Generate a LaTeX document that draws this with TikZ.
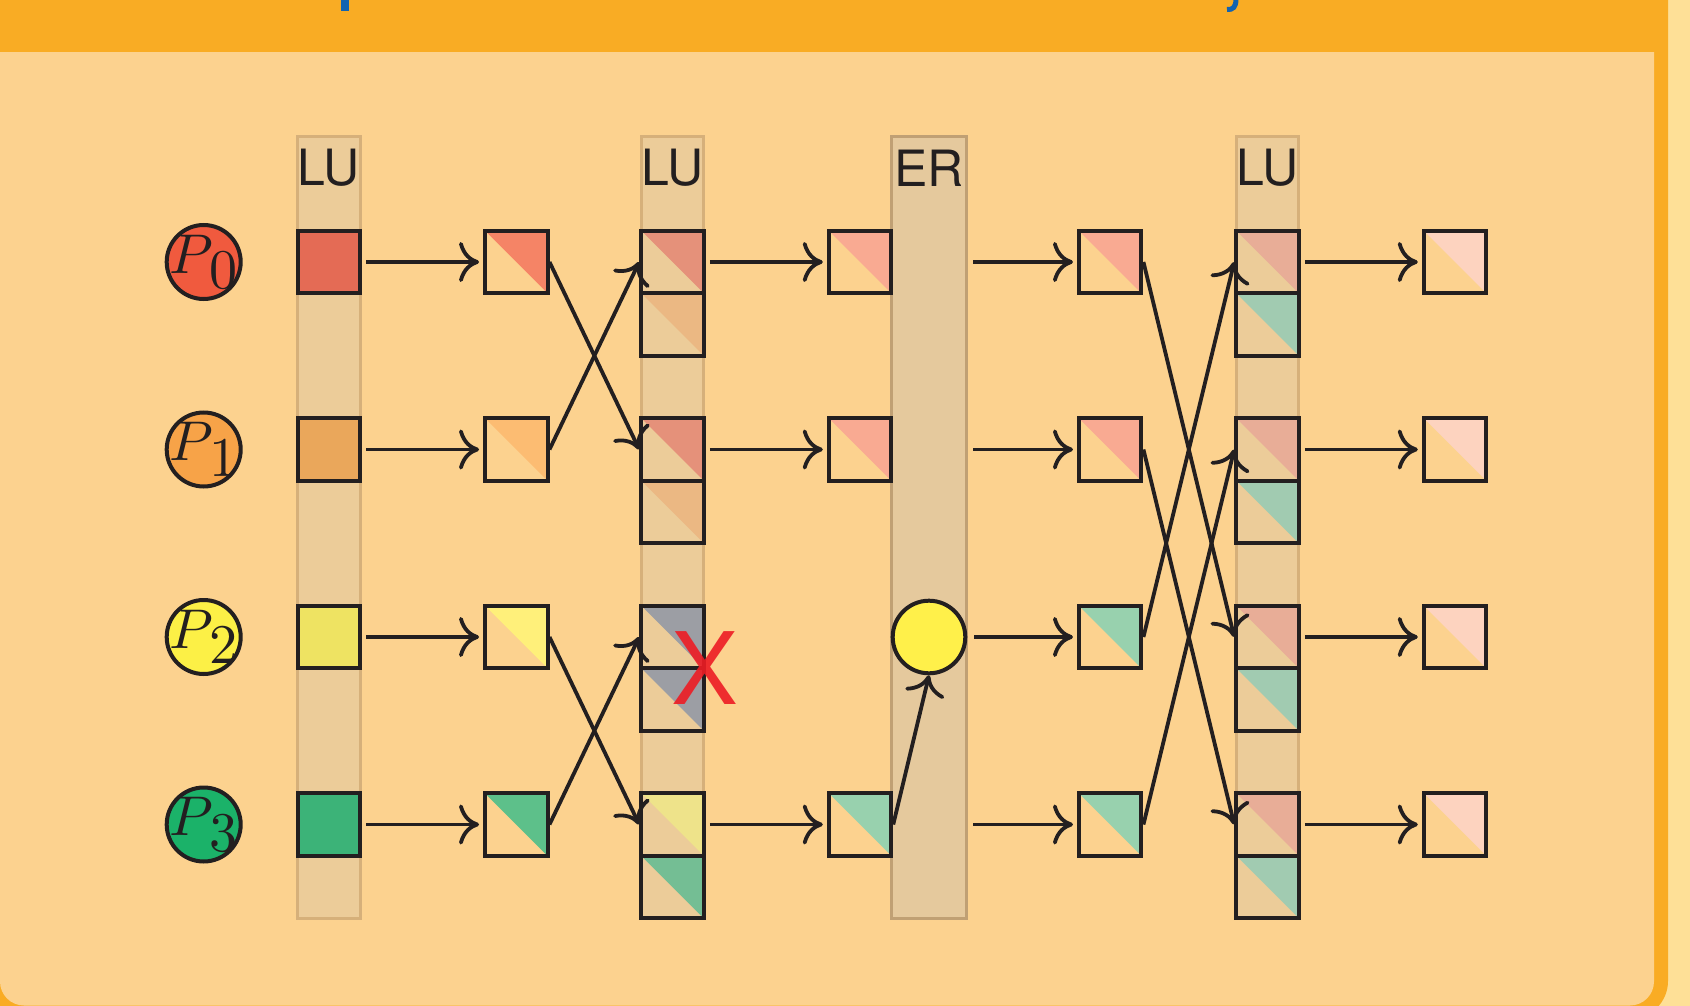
\documentclass[tikz,border=0pt]{standalone}
\usepackage{fontspec}
\setsansfont{TeX Gyre Heros}
\usetikzlibrary{arrows.meta}
\definecolor{ink}{RGB}{35,31,32}
\definecolor{pale}{RGB}{254,224,151}
\definecolor{frame}{RGB}{249,172,36}
\definecolor{panel}{RGB}{252,210,143}
\definecolor{bandfill}{RGB}{236,204,153}
\definecolor{bandedge}{RGB}{214,176,122}
\definecolor{erfill}{RGB}{229,201,157}
\definecolor{eredge}{RGB}{192,160,116}
\definecolor{titleblue}{RGB}{18,99,176}
\definecolor{xred}{RGB}{237,28,36}
% circles
\definecolor{pA}{RGB}{240,90,62}
\definecolor{pB}{RGB}{247,163,72}
\definecolor{pC}{RGB}{252,240,70}
\definecolor{pD}{RGB}{27,178,105}
% LU1 squares
\definecolor{lA}{RGB}{228,107,85}
\definecolor{lB}{RGB}{234,167,91}
\definecolor{lC}{RGB}{238,227,98}
\definecolor{lD}{RGB}{60,179,120}
% column 2 triangles
\definecolor{bA}{RGB}{245,132,102}
\definecolor{bB}{RGB}{252,188,114}
\definecolor{bC}{RGB}{255,240,122}
\definecolor{bD}{RGB}{93,192,138}
% LU2 triangles
\definecolor{cTop}{RGB}{229,145,122}
\definecolor{cBot}{RGB}{235,184,131}
\definecolor{cGray}{RGB}{156,158,164}
\definecolor{cYel}{RGB}{238,227,138}
\definecolor{cGrn}{RGB}{116,190,148}
% later columns
\definecolor{salmon}{RGB}{249,170,146}
\definecolor{mint}{RGB}{152,209,174}
\definecolor{fTop}{RGB}{232,173,151}
\definecolor{fBot}{RGB}{161,203,177}
\definecolor{gPink}{RGB}{253,211,191}
\definecolor{erY}{RGB}{255,240,74}
\tikzset{
  sq/.style={rectangle, draw=ink, line width=4pt, minimum size=62.5pt, inner sep=0pt},
  tri/.style={sq, path picture={\fill[#1] (path picture bounding box.north west) -- (path picture bounding box.north east) -- (path picture bounding box.south east) -- cycle;}},
  fullsq/.style={sq, fill=#1},
  pcirc/.style={circle, draw=ink, line width=4pt, minimum size=74pt, inner sep=0pt, fill=#1},
  plbl/.style={inner sep=0pt, text=ink},
  arr/.style={line width=3.8pt, draw=ink, -{Computer Modern Rightarrow[length=20pt,width=40pt]}},
  harr/.style={arr, shorten <=4pt, shorten >=4pt},
  bandbox/.style={rectangle, fill=bandfill, draw=bandedge, line width=3pt, minimum width=62.5pt, minimum height=781.3pt, inner sep=0pt},
  erbox/.style={rectangle, fill=erfill, draw=eredge, line width=3pt, minimum width=75.5pt, minimum height=781.3pt, inner sep=0pt},
  lbl/.style={font=\sffamily\fontsize{50}{50}\selectfont, text=ink, inner sep=0pt},
}
\newcommand{\plab}[1]{\scalebox{5.6}{$P$\kern-0.7pt\raisebox{-2.8pt}{$#1$}}}
\begin{document}
\begin{tikzpicture}[x=1pt,y=-1pt]
\useasboundingbox (0,0) rectangle (1690,1006);
\clip (0,0) rectangle (1690,1006);
% background and block frame
\fill[pale] (0,0) rectangle (1690,1006);
\fill[frame, rounded corners=38pt] (-14,-60) rectangle (1668,1019);
\fill[panel, rounded corners=24pt] (0,-40) rectangle (1654,1005.5);
\fill[frame] (-14,-60) rectangle (1668,52);
% cut-off title descenders
\fill[titleblue] (340.7,0) rectangle (349,11);
\draw[titleblue, line width=5pt] (1236,-1) .. controls (1236,7) and (1233,10) .. (1227,9.5);
% bands
\node[bandbox] (B1) at (328.75,527.65) {};
\node[bandbox] (B2) at (672.5,527.65) {};
\node[erbox] (B3) at (929,527.65) {};
\node[bandbox] (B4) at (1267.5,527.65) {};
\node[lbl] (L1) at (328.75,168) {LU};
\node[lbl] (L2) at (672.5,168) {LU};
\node[lbl] (L3) at (929,168) {ER};
\node[lbl] (L4) at (1267.5,168) {LU};
% process circles
\node[pcirc=pA] (p0) at (203.7,262) {};
\node[pcirc=pB] (p1) at (203.7,449.5) {};
\node[pcirc=pC] (p2) at (203.7,637) {};
\node[pcirc=pD] (p3) at (203.7,824.5) {};
\node[plbl] (p0t) at (p0.center) {\plab{0}};
\node[plbl] (p1t) at (p1.center) {\plab{1}};
\node[plbl] (p2t) at (p2.center) {\plab{2}};
\node[plbl] (p3t) at (p3.center) {\plab{3}};
% LU1
\node[fullsq=lA] (a0) at (328.75,262) {};
\node[fullsq=lB] (a1) at (328.75,449.5) {};
\node[fullsq=lC] (a2) at (328.75,637) {};
\node[fullsq=lD] (a3) at (328.75,824.5) {};
% column 2
\node[tri=bA] (b0) at (516.25,262) {};
\node[tri=bB] (b1) at (516.25,449.5) {};
\node[tri=bC] (b2) at (516.25,637) {};
\node[tri=bD] (b3) at (516.25,824.5) {};
% LU2 stacks
\node[tri=cTop] (c0t) at (672.5,262) {};
\node[tri=cBot] (c0b) at (672.5,324.5) {};
\node[tri=cTop] (c1t) at (672.5,449.5) {};
\node[tri=cBot] (c1b) at (672.5,512) {};
\node[tri=cGray] (c2t) at (672.5,637) {};
\node[tri=cGray] (c2b) at (672.5,699.5) {};
\node[tri=cYel] (c3t) at (672.5,824.5) {};
\node[tri=cGrn] (c3b) at (672.5,887) {};
% column 4
\node[tri=salmon] (d0) at (860,262) {};
\node[tri=salmon] (d1) at (860,449.5) {};
\node[tri=mint] (d3) at (860,824.5) {};
% ER circle
\node[circle, draw=ink, line width=4pt, fill=erY, minimum size=72.6pt, inner sep=0pt] (erc) at (929,637) {};
% column 5
\node[tri=salmon] (e0) at (1110.2,262) {};
\node[tri=salmon] (e1) at (1110.2,449.5) {};
\node[tri=mint] (e2) at (1110.2,637) {};
\node[tri=mint] (e3) at (1110.2,824.5) {};
% LU3 stacks
\node[tri=fTop] (f0t) at (1267.5,262) {};
\node[tri=fBot] (f0b) at (1267.5,324.5) {};
\node[tri=fTop] (f1t) at (1267.5,449.5) {};
\node[tri=fBot] (f1b) at (1267.5,512) {};
\node[tri=fTop] (f2t) at (1267.5,637) {};
\node[tri=fBot] (f2b) at (1267.5,699.5) {};
\node[tri=fTop] (f3t) at (1267.5,824.5) {};
\node[tri=fBot] (f3b) at (1267.5,887) {};
% column 7
\node[tri=gPink] (g0) at (1455,262) {};
\node[tri=gPink] (g1) at (1455,449.5) {};
\node[tri=gPink] (g2) at (1455,637) {};
\node[tri=gPink] (g3) at (1455,824.5) {};
% arrows
\draw[harr] (a0.east) -- (b0.west);
\draw[harr] (a1.east) -- (b1.west);
\draw[harr] (a2.east) -- (b2.west);
\draw[harr] (a3.east) -- (b3.west);
\draw[arr] (b0.east) -- (c1t.west);
\draw[arr] (b1.east) -- (c0t.west);
\draw[arr] (b2.east) -- (c3t.west);
\draw[arr] (b3.east) -- (c2t.west);
\draw[harr] (c0t.east) -- (d0.west);
\draw[harr] (c1t.east) -- (d1.west);
\draw[harr] (c3t.east) -- (d3.west);
\draw[arr] (d3.east) -- (erc.south);
\coordinate (x0) at (973,262);
\coordinate (x1) at (973,449.5);
\coordinate (x3) at (973,824.5);
\draw[arr, shorten >=4pt] (x0) -- (e0.west);
\draw[arr, shorten >=4pt] (x1) -- (e1.west);
\draw[arr, shorten <=7pt, shorten >=4pt] (erc.east) -- (e2.west);
\draw[arr, shorten >=4pt] (x3) -- (e3.west);
\draw[arr] (e0.east) -- (f2t.west);
\draw[arr] (e1.east) -- (f3t.west);
\draw[arr] (e2.east) -- (f0t.west);
\draw[arr] (e3.east) -- (f1t.west);
\draw[harr] (f0t.east) -- (g0.west);
\draw[harr] (f1t.east) -- (g1.west);
\draw[harr] (f2t.east) -- (g2.west);
\draw[harr] (f3t.east) -- (g3.west);
% failure mark
\node[font=\sffamily\fontsize{100}{100}\selectfont, text=xred, text opacity=0.9, inner sep=0pt] (xmark) at (704.5,668) {X};
\end{tikzpicture}
\end{document}
